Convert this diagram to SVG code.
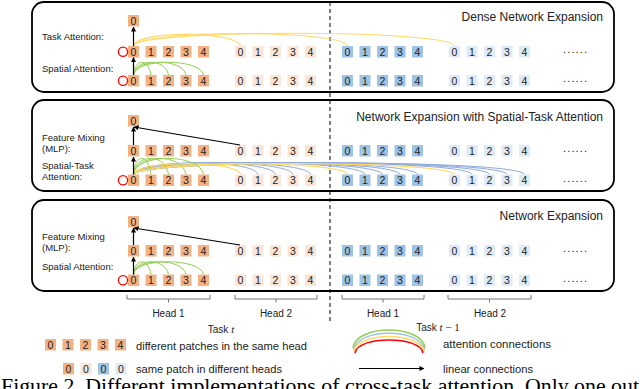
<svg xmlns="http://www.w3.org/2000/svg" xmlns:xlink="http://www.w3.org/1999/xlink" width="640" height="389" viewBox="0 0 640 389">
<style>
text{font-family:"Liberation Sans",Arial,sans-serif;fill:#222}
.d{font-size:10.5px;text-anchor:middle}
.lbl{font-size:9.5px}
.ttl{font-size:12px;text-anchor:end}
.hd{font-size:10px;text-anchor:middle}
.lg{font-size:10.5px}
.o{fill:#F4B183}.lo{fill:#FBE5D6}.b{fill:#9DC3E6}.lb{fill:#DEEBF7}
.panel{fill:#fff;stroke:#000;stroke-width:1.8}
.g{fill:none;stroke:#92D050;stroke-width:1}
.y{fill:none;stroke:#FFD966;stroke-width:1.1}
.bl{fill:none;stroke:#8FAADC;stroke-width:1}
.ar{fill:none;stroke:#000;stroke-width:1.2;marker-end:url(#ah)}
.rc{fill:none;stroke:#FF0000;stroke-width:1.3}
.br{fill:none;stroke:#777;stroke-width:1}
.dots{font-size:11px}
</style>
<defs>
<marker id="ah" viewBox="0 0 6 6" refX="5.5" refY="3" markerWidth="5" markerHeight="5" orient="auto" markerUnits="userSpaceOnUse"><path d="M0,0 L6,3 L0,6 z" fill="#000"/></marker>
<g id="hO"><rect class="o" x="0" width="11" height="11.5"/><rect class="o" x="17.5" width="11" height="11.5"/><rect class="o" x="35" width="11" height="11.5"/><rect class="o" x="52.5" width="11" height="11.5"/><rect class="o" x="70" width="11" height="11.5"/><text class="d" x="5.5" y="9.5">0</text><text class="d" x="23" y="9.5">1</text><text class="d" x="40.5" y="9.5">2</text><text class="d" x="58" y="9.5">3</text><text class="d" x="75.5" y="9.5">4</text></g>
<g id="hLO"><rect class="lo" x="0" width="11" height="11.5"/><rect class="lo" x="17.5" width="11" height="11.5"/><rect class="lo" x="35" width="11" height="11.5"/><rect class="lo" x="52.5" width="11" height="11.5"/><rect class="lo" x="70" width="11" height="11.5"/><text class="d" x="5.5" y="9.5">0</text><text class="d" x="23" y="9.5">1</text><text class="d" x="40.5" y="9.5">2</text><text class="d" x="58" y="9.5">3</text><text class="d" x="75.5" y="9.5">4</text></g>
<g id="hB"><rect class="b" x="0" width="11" height="11.5"/><rect class="b" x="17.5" width="11" height="11.5"/><rect class="b" x="35" width="11" height="11.5"/><rect class="b" x="52.5" width="11" height="11.5"/><rect class="b" x="70" width="11" height="11.5"/><text class="d" x="5.5" y="9.5">0</text><text class="d" x="23" y="9.5">1</text><text class="d" x="40.5" y="9.5">2</text><text class="d" x="58" y="9.5">3</text><text class="d" x="75.5" y="9.5">4</text></g>
<g id="hLB"><rect class="lb" x="0" width="11" height="11.5"/><rect class="lb" x="17.5" width="11" height="11.5"/><rect class="lb" x="35" width="11" height="11.5"/><rect class="lb" x="52.5" width="11" height="11.5"/><rect class="lb" x="70" width="11" height="11.5"/><text class="d" x="5.5" y="9.5">0</text><text class="d" x="23" y="9.5">1</text><text class="d" x="40.5" y="9.5">2</text><text class="d" x="58" y="9.5">3</text><text class="d" x="75.5" y="9.5">4</text></g>
<g id="row"><use xlink:href="#hO" x="128"/><use xlink:href="#hLO" x="235"/><use xlink:href="#hB" x="342"/><use xlink:href="#hLB" x="449"/><text class="dots" x="563" y="7" textLength="24" lengthAdjust="spacing">......</text></g>
<g id="top0"><rect class="o" x="128" width="11" height="11.5"/><text class="d" x="133.5" y="9.5">0</text></g>
</defs>

<!-- Panels -->
<g id="panel1">
<rect class="panel" x="32" y="2" width="582" height="90" rx="12"/>
<text class="ttl" x="603" y="21">Dense Network Expansion</text>
<text class="lbl" x="42" y="40">Task Attention:</text>
<text class="lbl" x="42" y="71.5">Spatial Attention:</text>
</g>
<g id="panel2">
<rect class="panel" x="32" y="100" width="582" height="91" rx="12"/>
<text class="ttl" x="603" y="121">Network Expansion with Spatial-Task Attention</text>
<text class="lbl" x="42" y="140.5">Feature Mixing</text>
<text class="lbl" x="42" y="151.5">(MLP):</text>
<text class="lbl" x="42" y="168.5">Spatial-Task</text>
<text class="lbl" x="42" y="179.5">Attention:</text>
</g>
<g id="panel3">
<rect class="panel" x="32" y="200" width="582" height="91" rx="12"/>
<text class="ttl" x="603" y="219.5">Network Expansion</text>
<text class="lbl" x="42" y="240">Feature Mixing</text>
<text class="lbl" x="42" y="251">(MLP):</text>
<text class="lbl" x="42" y="270">Spatial Attention:</text>
</g>

<line x1="330" y1="2" x2="330" y2="321" stroke="#000" stroke-width="1" stroke-dasharray="4,3"/>

<!-- Patch rows -->
<g id="p1-out"><use xlink:href="#top0" y="15"/></g>
<g id="p1-row1"><use xlink:href="#row" y="46"/><circle class="rc" cx="123" cy="51.75" r="4.6"/></g>
<g id="p1-row2"><use xlink:href="#row" y="75"/><circle class="rc" cx="123" cy="80.75" r="4.6"/></g>
<g id="p2-out"><use xlink:href="#top0" y="115"/></g>
<g id="p2-row1"><use xlink:href="#row" y="145"/></g>
<g id="p2-row2"><use xlink:href="#row" y="174.5"/><circle class="rc" cx="123" cy="180.25" r="4.6"/></g>
<g id="p3-out"><use xlink:href="#top0" y="216"/></g>
<g id="p3-row1"><use xlink:href="#row" y="245"/></g>
<g id="p3-row2"><use xlink:href="#row" y="274.5"/><circle class="rc" cx="123" cy="280.25" r="4.6"/></g>

<!-- Connectors -->
<g id="connectors">
<!-- panel 1 -->
<path class="y" d="M133.5,46 C136,30 237.5,31 240.5,46"/>
<path class="y" d="M133.5,46 C136,29.5 344.5,29.5 347.5,46"/>
<path class="y" d="M133.5,46 C136,29 451.5,29 454.5,46"/>
<path class="g" d="M133.5,75 C135,58 148,58 151,75"/>
<path class="g" d="M133.5,75 C135,58 165.5,58 168.5,75"/>
<path class="g" d="M133.5,75 C135,58 183,58 186,75"/>
<path class="g" d="M133.5,75 C135,58 200.5,58 203.5,75"/>
<path class="ar" d="M133.5,46 V27"/>
<path class="ar" d="M133.5,75 V57.5"/>
<!-- panel 2 -->
<path class="bl" d="M133.5,174.5 C136,159 255,159 258,174.5"/>
<path class="bl" d="M133.5,174.5 C136,159 272.5,159 275.5,174.5"/>
<path class="bl" d="M133.5,174.5 C136,159 290,159 293,174.5"/>
<path class="bl" d="M133.5,174.5 C136,159 307.5,159 310.5,174.5"/>
<path class="bl" d="M133.5,174.5 C136,159 362,159 365,174.5"/>
<path class="bl" d="M133.5,174.5 C136,159 379.5,159 382.5,174.5"/>
<path class="bl" d="M133.5,174.5 C136,159 397,159 400,174.5"/>
<path class="bl" d="M133.5,174.5 C136,159 414.5,159 417.5,174.5"/>
<path class="bl" d="M133.5,174.5 C136,159 469,159 472,174.5"/>
<path class="bl" d="M133.5,174.5 C136,159 486.5,159 489.5,174.5"/>
<path class="bl" d="M133.5,174.5 C136,159 504,159 507,174.5"/>
<path class="bl" d="M133.5,174.5 C136,159 521.5,159 524.5,174.5"/>
<path class="y" d="M133.5,174.5 C136,160 237.5,160 240.5,174.5"/>
<path class="y" d="M133.5,174.5 C136,160 344.5,160 347.5,174.5"/>
<path class="y" d="M133.5,174.5 C136,160 451.5,160 454.5,174.5"/>
<path class="g" d="M133.5,174.5 C135,153 148,153 151,174.5"/>
<path class="g" d="M133.5,174.5 C135,153 165.5,153 168.5,174.5"/>
<path class="g" d="M133.5,174.5 C135,153 183,153 186,174.5"/>
<path class="g" d="M133.5,174.5 C135,153 200.5,153 203.5,174.5"/>
<path class="ar" d="M133.5,145 V127"/>
<path class="ar" d="M133.5,174.5 V157"/>
<path class="ar" d="M240,145 L134,127"/>
<!-- panel 3 -->
<path class="g" d="M133.5,274.5 C135,257.5 148,257.5 151,274.5"/>
<path class="g" d="M133.5,274.5 C135,257.5 165.5,257.5 168.5,274.5"/>
<path class="g" d="M133.5,274.5 C135,257.5 183,257.5 186,274.5"/>
<path class="g" d="M133.5,274.5 C135,257.5 200.5,257.5 203.5,274.5"/>
<path class="ar" d="M133.5,245 V228"/>
<path class="ar" d="M133.5,274.5 V257"/>
<path class="ar" d="M240,245 L134,228"/>
</g>

<!-- Head brackets -->
<g id="brackets">
<path class="br" d="M127,295 V299 H210 V295 M168.5,299 V302.5"/>
<path class="br" d="M235,295 V299 H317 V295 M276,299 V302.5"/>
<path class="br" d="M342,295 V299 H424 V295 M383,299 V302.5"/>
<path class="br" d="M448,295 V299 H531 V295 M489.5,299 V302.5"/>
<text class="hd" x="168.5" y="316.5">Head 1</text>
<text class="hd" x="276" y="316.5">Head 2</text>
<text class="hd" x="383" y="316.5">Head 1</text>
<text class="hd" x="490" y="316.5">Head 2</text>
<text class="hd" x="221" y="333">Task <tspan style="font-family:'Liberation Serif',serif;font-style:italic;font-size:11px">t</tspan></text>
<text class="hd" x="438" y="331">Task <tspan style="font-family:'Liberation Serif',serif;font-style:italic;font-size:11px">t</tspan><tspan style="font-family:'Liberation Serif',serif;font-size:11px"> − 1</tspan></text>
</g>

<!-- Legend -->
<g id="legend">
<use xlink:href="#hO" x="45" y="339"/>
<text class="lg" x="136" y="349.5" textLength="171" lengthAdjust="spacingAndGlyphs">different patches in the same head</text>
<rect class="o" x="63" y="363" width="11" height="11.5"/><text class="d" x="68.5" y="372.5">0</text>
<rect class="lo" x="80.5" y="363" width="11" height="11.5"/><text class="d" x="86" y="372.5">0</text>
<rect class="b" x="98" y="363" width="11" height="11.5"/><text class="d" x="103.5" y="372.5">0</text>
<rect class="lb" x="115.5" y="363" width="11" height="11.5"/><text class="d" x="121" y="372.5">0</text>
<text class="lg" x="136" y="372.5" textLength="146" lengthAdjust="spacingAndGlyphs">same patch in different heads</text>
<path d="M353,348 C356,324 422,324 425,348" fill="none" stroke="#92D050" stroke-width="1.5"/>
<path d="M353.5,350 C356.5,327.5 421.5,327.5 424.5,350" fill="none" stroke="#9DC3E6" stroke-width="1.5"/>
<path d="M354,351.5 C357,331.5 421,331.5 424,351.5" fill="none" stroke="#FFD966" stroke-width="1.5"/>
<path d="M355,353 C358,335.5 420,335.5 423,353" fill="none" stroke="#FF0000" stroke-width="1.5"/>
<text class="lg" x="443" y="348" textLength="108" lengthAdjust="spacingAndGlyphs">attention connections</text>
<path class="ar" d="M359,368.5 H424"/>
<text class="lg" x="443" y="372.5" textLength="90" lengthAdjust="spacingAndGlyphs">linear connections</text>
</g>

<text x="1" y="393" textLength="638" lengthAdjust="spacingAndGlyphs" style="font-family:'Liberation Serif','Times New Roman',serif;font-size:20px;fill:#000">Figure 2. Different implementations of cross-task attention. Only one out</text>
</svg>
